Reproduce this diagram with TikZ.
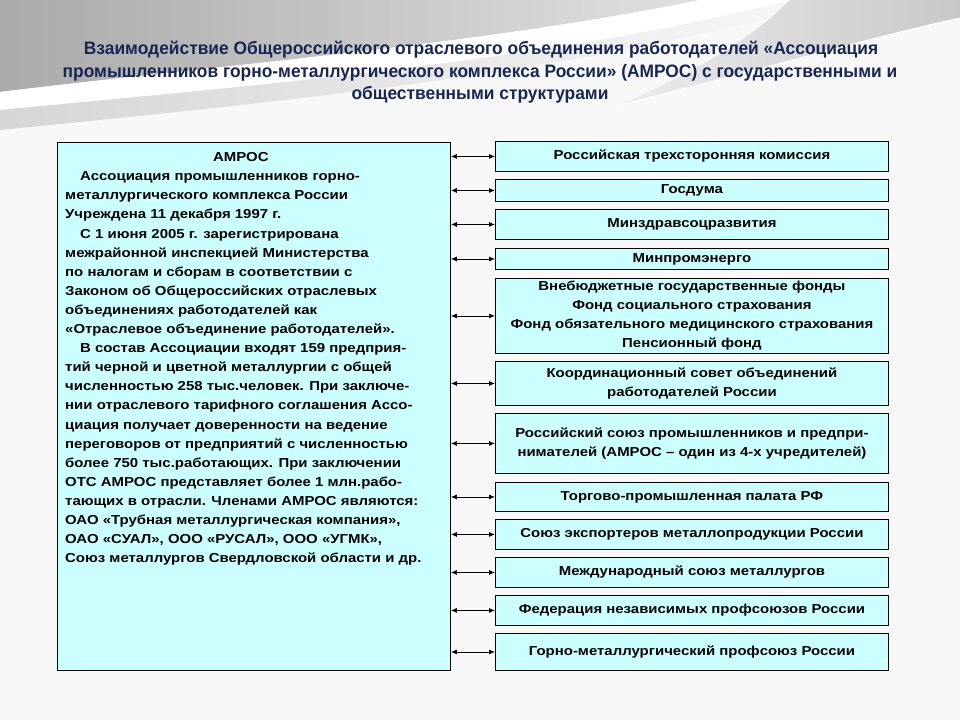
\documentclass[tikz,border=0pt]{standalone}
\usepackage{fontspec}
\setmainfont[FakeStretch=1.15]{Liberation Sans}
\newfontfamily\titlefont[FakeStretch=0.965]{Liberation Sans}
\usetikzlibrary{arrows.meta}
\definecolor{boxfill}{HTML}{CCFFFF}
\definecolor{titleblue}{RGB}{24,38,84}
\definecolor{bgcol}{HTML}{F8F8F8}
\definecolor{swoosh}{HTML}{C8C8C8}
\begin{document}
\begin{tikzpicture}[x=1pt,y=-1pt,
  rbox/.style={draw=black, line width=0.9pt, fill=boxfill, minimum width=393pt,
    inner sep=0pt, anchor=north west, align=center,
    font=\fontsize{13}{19}\selectfont\bfseries},
  link/.style={{Latex[length=6pt,width=5pt]}-{Latex[length=6pt,width=5pt]}, line width=0.8pt},
  ttl/.style={text=titleblue, font=\titlefont\fontsize{18}{23}\selectfont\bfseries, anchor=base, inner sep=0pt}
]
\fill[bgcol] (0,0) rectangle (960,720);
\useasboundingbox (0,0) rectangle (960,720);
% background swooshes
\shade[left color=swoosh!85!black, right color=swoosh!55!white]
  (0,0) -- (700,0) .. controls (480,45) and (220,65) .. (0,92) -- cycle;
\fill[white] (700,0) -- (790,0) .. controls (560,60) and (260,85) .. (0,110)
  -- (0,92) .. controls (220,65) and (480,45) .. (700,0) -- cycle;
\shade[left color=swoosh!75!white, right color=bgcol]
  (0,110) .. controls (260,85) and (560,60) .. (790,0) -- (830,0)
  .. controls (600,70) and (300,100) .. (0,130) -- cycle;
\shade[left color=swoosh!35!white, right color=swoosh]
  (790,0) -- (960,0) -- (960,18) .. controls (860,40) and (760,70) .. (620,105)
  .. controls (720,60) and (760,30) .. (790,0) -- cycle;
\draw[white, line width=1pt] (960,18) .. controls (860,40) and (760,70) .. (620,105);

% title
\node[ttl] (t1) at (481,54) {Взаимодействие Общероссийского отраслевого объединения работодателей «Ассоциация};
\node[ttl] (t2) at (480,77) {промышленников горно-металлургического комплекса России» (АМРОС) с государственными и};
\node[ttl] (t3) at (480,99) {общественными структурами};

% left box
\node[draw=black, line width=0.9pt, fill=boxfill, minimum width=393pt, minimum height=528pt,
  anchor=north west, inner sep=0pt] (amros) at (57,142) {};
\node[anchor=north west, inner sep=0pt, align=left,
  font=\fontsize{13}{19.1}\selectfont\bfseries] (amrostext) at (65,148.1) {%
\strut\hspace*{148pt}АМРОС\\
\hspace*{15pt}Ассоциация промышленников горно-\\
металлургического комплекса России\\
Учреждена 11 декабря 1997 г.\\
\hspace*{15pt}С 1 июня 2005 г. зарегистрирована\\
межрайонной инспекцией Министерства\\
по налогам и сборам в соответствии с\\
Законом об Общероссийских отраслевых\\
объединениях работодателей как\\
«Отраслевое объединение работодателей».\\
\hspace*{15pt}В состав Ассоциации входят 159 предприя-\\
тий черной и цветной металлургии с общей\\
численностью 258 тыс.человек. При заключе-\\
нии отраслевого тарифного соглашения Ассо-\\
циация получает доверенности на ведение\\
переговоров от предприятий с численностью\\
более 750 тыс.работающих. При заключении\\
ОТС АМРОС представляет более 1 млн.рабо-\\
тающих в отрасли. Членами АМРОС являются:\\
ОАО «Трубная металлургическая компания»,\\
ОАО «СУАЛ», ООО «РУСАЛ», ООО «УГМК»,\\
Союз металлургов Свердловской области и др.};

% right boxes
\node[rbox, minimum height=30pt] (r1) at (495,141) {Российская трехсторонняя комиссия};
\node[rbox, minimum height=22pt] (r2) at (495,179) {Госдума};
\node[rbox, minimum height=30pt] (r3) at (495,209) {Минздравсоцразвития};
\node[rbox, minimum height=21pt] (r4) at (495,248) {Минпромэнерго};
\node[rbox, minimum height=75pt] (r5) at (495,278) {Внебюджетные государственные фонды\\Фонд социального страхования\\Фонд обязательного медицинского страхования\\Пенсионный фонд};
\node[rbox, minimum height=44pt] (r6) at (495,361) {Координационный совет объединений\\работодателей России};
\node[rbox, minimum height=60pt] (r7) at (495,413) {Российский союз промышленников и предпри-\\нимателей (АМРОС – один из 4-х учредителей)};
\node[rbox, minimum height=29pt] (r8) at (495,482) {Торгово-промышленная палата РФ};
\node[rbox, minimum height=30pt] (r9) at (495,519) {Союз экспортеров металлопродукции России};
\node[rbox, minimum height=30pt] (r10) at (495,557) {Международный союз металлургов};
\node[rbox, minimum height=30pt] (r11) at (495,595) {Федерация независимых профсоюзов России};
\node[rbox, minimum height=37pt] (r12) at (495,633) {Горно-металлургический профсоюз России};

\foreach \r in {r1,r2,r3,r4,r5,r6,r7,r8,r9,r10,r11,r12}
  \draw[link] (amros.east |- \r.west) -- (\r.west);
\end{tikzpicture}
\end{document}
